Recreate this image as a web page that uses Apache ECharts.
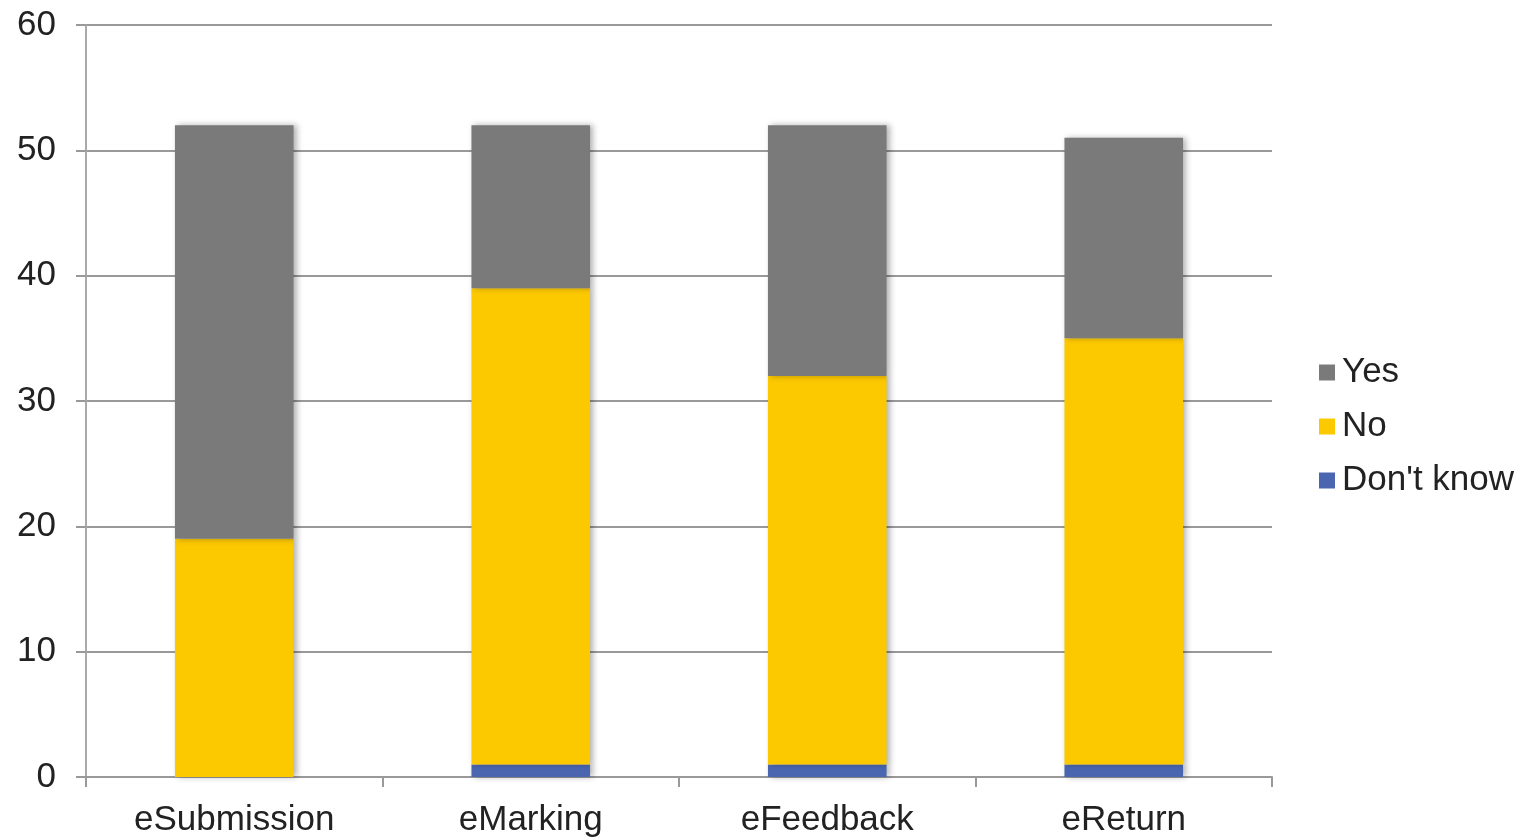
<!DOCTYPE html>
<html>
<head>
<meta charset="utf-8">
<script src="https://cdn.jsdelivr.net/npm/echarts@6/dist/echarts.min.js"></script>
<style>html,body{margin:0;padding:0;background:#fff;}#c{width:1536px;height:838px;}</style>
</head>
<body>
<div id="c"></div>
<script>
var categories = ['eSubmission', 'eMarking', 'eFeedback', 'eReturn'];
var dontKnow = [0, 1, 1, 1];
var no = [19, 38, 31, 34];
var yes = [33, 13, 20, 16];
var yTicks = [0, 10, 20, 30, 40, 50, 60];

var chart = echarts.init(document.getElementById('c'));
var font = 'Liberation Sans, Arial, sans-serif';
var shadow = {shadowBlur: 6, shadowOffsetX: 3, shadowOffsetY: 0, shadowColor: 'rgba(0,0,0,0.3)'};
function style(c) { return Object.assign({color: c}, shadow); }
chart.setOption({
  animation: false,
  backgroundColor: '#fff',
  grid: {left: 86, right: 264, top: 25, bottom: 60, containLabel: false},
  legend: {
    orient: 'vertical', left: 1314, top: 350,
    data: ['Yes', 'No', "Don't know"],
    icon: 'rect', itemWidth: 16, itemHeight: 16, itemGap: 19,
    textStyle: {fontSize: 35, color: '#222', fontFamily: font, padding: [0, 0, 0, 2]}
  },
  xAxis: {
    type: 'category', data: categories,
    axisLine: {lineStyle: {color: '#999', width: 2}},
    axisTick: {show: true, length: 10, lineStyle: {color: '#999', width: 2}},
    axisLabel: {fontSize: 35, color: '#222', fontFamily: font, margin: 26}
  },
  yAxis: {
    type: 'value', min: yTicks[0], max: yTicks[yTicks.length - 1], interval: 10,
    axisLine: {show: true, lineStyle: {color: '#aaa', width: 2}},
    axisTick: {show: true, length: 10, lineStyle: {color: '#999', width: 2}},
    splitLine: {lineStyle: {color: '#999', width: 2}},
    axisLabel: {fontSize: 35, color: '#222', fontFamily: font, margin: 30}
  },
  series: [
    {name: "Don't know", type: 'bar', stack: 's', data: dontKnow, barWidth: '40%', itemStyle: style('#4a66b0')},
    {name: 'No', type: 'bar', stack: 's', data: no, barWidth: '40%', itemStyle: style('#fcc800')},
    {name: 'Yes', type: 'bar', stack: 's', data: yes, barWidth: '40%', itemStyle: style('#7a7a7a')}
  ]
});
</script>
</body>
</html>
